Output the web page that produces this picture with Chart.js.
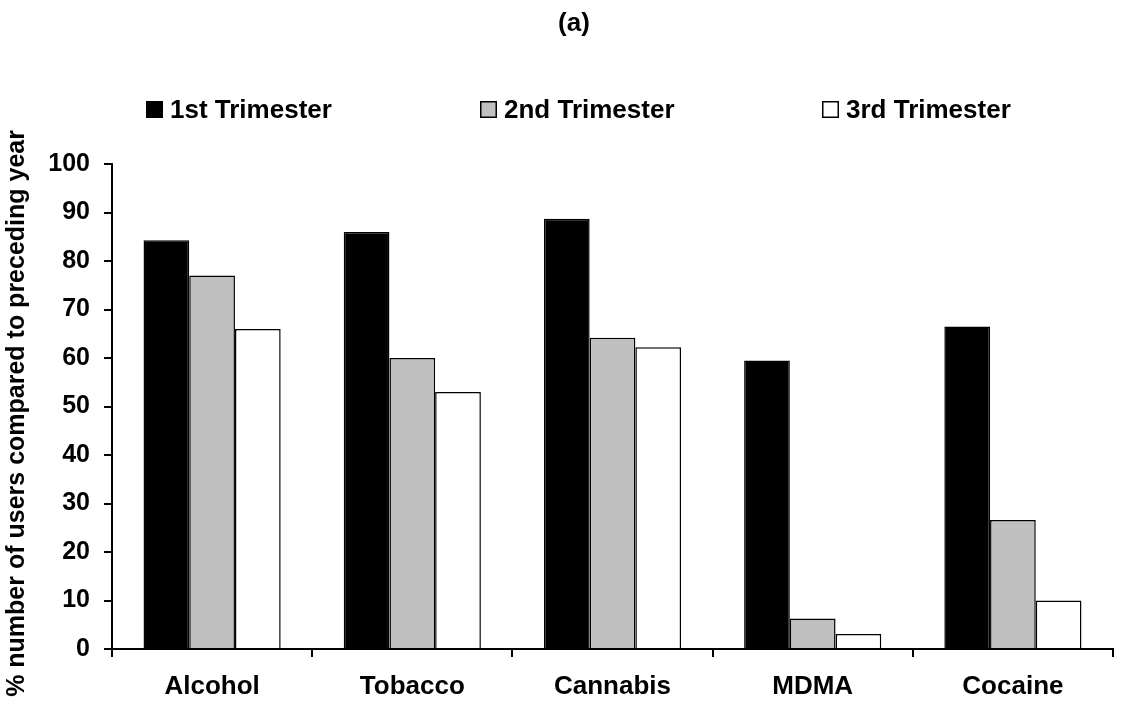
<!DOCTYPE html>
<html>
<head>
<meta charset="utf-8">
<script src="https://cdn.jsdelivr.net/npm/chart.js@4.4.0/dist/chart.umd.min.js"></script>
<style>
html,body{margin:0;padding:0;background:#fff;}
#wrap{width:1131px;height:714px;}
</style>
</head>
<body>
<div id="wrap"><canvas id="c" width="1131" height="714"></canvas></div>
<script>
const categories = ["Alcohol", "Tobacco", "Cannabis", "MDMA", "Cocaine"];
const seriesLabels = ["1st Trimester", "2nd Trimester", "3rd Trimester"];
const first = [84.3, 86.0, 88.7, 59.5, 66.5];
const second = [77.0, 60.0, 64.2, 6.3, 26.6];
const third = [66.0, 53.0, 62.2, 3.1, 10.0];
const yTicks = [0, 10, 20, 30, 40, 50, 60, 70, 80, 90, 100];
const colors = ["#000000", "#C0C0C0", "#FFFFFF"];
const chartTitle = "(a)";
const yTitle = "% number of users compared to preceding year";

const FONT = "'Liberation Sans', Arial, Helvetica, sans-serif";

const decorPlugin = {
  id: 'decor',
  afterDraw(chart) {
    const ctx = chart.ctx;
    ctx.save();
    // title
    ctx.font = "bold 26px " + FONT;
    ctx.fillStyle = '#000';
    ctx.textAlign = 'center';
    ctx.textBaseline = 'middle';
    ctx.fillText(chartTitle, 574, 24);
    // legend
    const xs = [146, 480, 822];
    const y = 109.5;
    ctx.textAlign = 'left';
    chart.data.datasets.forEach((ds, i) => {
      const x = xs[i];
      ctx.fillStyle = ds.backgroundColor;
      ctx.fillRect(x, y - 8.5, 17, 17);
      ctx.strokeStyle = '#000';
      ctx.lineWidth = 1.5;
      ctx.strokeRect(x + 0.75, y - 7.75, 15.5, 15.5);
      ctx.fillStyle = '#000';
      ctx.fillText(ds.label, x + 24, y + 1);
    });
    ctx.restore();
  }
};

new Chart(document.getElementById('c'), {
  type: 'bar',
  data: {
    labels: categories,
    datasets: [
      { label: seriesLabels[0], data: first, backgroundColor: colors[0], borderColor: '#000', borderWidth: 1.5 },
      { label: seriesLabels[1], data: second, backgroundColor: colors[1], borderColor: '#000', borderWidth: 1.5 },
      { label: seriesLabels[2], data: third, backgroundColor: colors[2], borderColor: '#000', borderWidth: 1.5 }
    ]
  },
  options: {
    responsive: false,
    animation: false,
    devicePixelRatio: 1,
    layout: { padding: { left: 0, right: 18, top: 164, bottom: 0 } },
    datasets: { bar: { categoryPercentage: 0.685, barPercentage: 1.0 } },
    plugins: {
      legend: { display: false },
      tooltip: { enabled: false },
      title: { display: false }
    },
    scales: {
      x: {
        offset: true,
        afterFit(scale) { scale.height = 65; },
        grid: { offset: true, drawOnChartArea: false, drawTicks: true, tickLength: 8, color: '#000', lineWidth: 2 },
        border: { display: true, color: '#000', width: 2 },
        ticks: { color: '#000', font: { family: FONT, size: 26, weight: 'bold' }, padding: 14, maxRotation: 0 }
      },
      y: {
        min: 0, max: 100,
        afterFit(scale) { scale.width = 112; },
        afterBuildTicks(scale) { scale.ticks = yTicks.map(v => ({ value: v })); },
        grid: { drawOnChartArea: false, drawTicks: true, tickLength: 8, color: '#000', lineWidth: 2 },
        border: { display: true, color: '#000', width: 2 },
        ticks: { color: '#000', font: { family: FONT, size: 25, weight: 'bold' }, padding: 14 },
        title: {
          display: true,
          text: yTitle + "  ",
          color: '#000',
          font: { family: FONT, size: 25, weight: 'bold' },
          padding: { top: 2, bottom: 0 }
        }
      }
    }
  },
  plugins: [decorPlugin]
});
</script>
</body>
</html>
